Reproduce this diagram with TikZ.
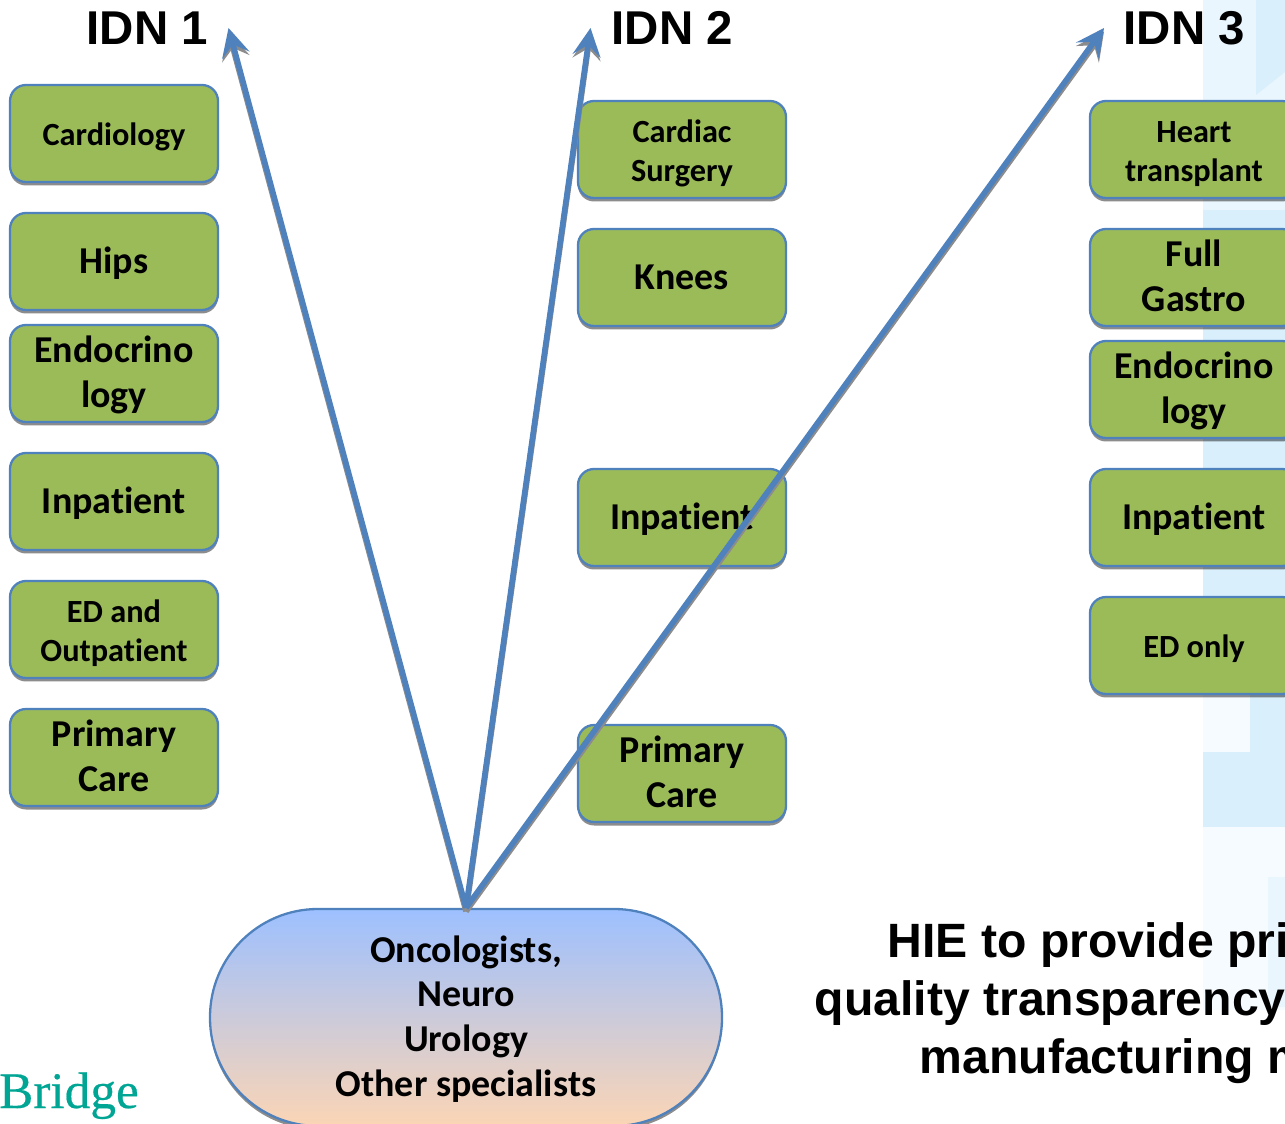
\documentclass[tikz,border=0pt]{standalone}
\usepackage{fontspec}
\setmainfont[Ligatures={NoCommon}]{Carlito}
\newfontfamily\arialfont{Liberation Sans}
\newfontfamily\logofont[FakeBold=0.4]{Liberation Serif}
\usetikzlibrary{shadows}
\usetikzlibrary{arrows.meta}
\definecolor{boxgreen}{HTML}{9BBB59}
\definecolor{boxblue}{HTML}{4F81BD}
\definecolor{bgpale}{HTML}{EAF6FE}
\definecolor{bgmid}{HTML}{D9EFFC}
\definecolor{bgfaint}{HTML}{F6FBFF}
\definecolor{logoteal}{HTML}{00A594}
\definecolor{oncotop}{HTML}{9DC0FF}
\definecolor{oncobottom}{HTML}{FBD5B5}
\newcommand{\boxlabel}[1]{\raisebox{-0.125cm}[0pt][0pt]{\begin{tabular}{@{}c@{}}#1\end{tabular}}}
\tikzset{
    carebox/.style={draw=boxblue, line width=0.65pt, fill=boxgreen, rounded corners=0.16cm,
        minimum width=2.08cm, minimum height=0.97cm, inner sep=0pt,
        drop shadow={shadow xshift=0cm, shadow yshift=-0.035cm, fill=black, opacity=0.45}},
    bigbox/.style={carebox, font=\bfseries\fontsize{10.8}{12.7}\selectfont},
    smallbox/.style={carebox, font=\bfseries\fontsize{9.2}{11.1}\selectfont},
    idn/.style={anchor=base west, inner sep=0pt, font=\arialfont\bfseries\fontsize{13.5}{16}\selectfont},
    hie/.style={anchor=base west, inner sep=0pt, font=\arialfont\bfseries\fontsize{13.7}{16}\selectfont},
    referral/.style={draw=boxblue, line width=1.6pt, -{Stealth[length=0.28cm, width=0.28cm, inset=0.11cm]}},
    referralshadow/.style={draw=black!45, line width=1.6pt, -{Stealth[length=0.28cm, width=0.28cm, inset=0.11cm]}}
}
\begin{document}
\begin{tikzpicture}
    \useasboundingbox (0,0) rectangle (12.85,-11.24);
    % backdrop
    \fill[bgpale] (12.03,0) rectangle (12.85,-2.1);
    \fill[bgmid] (12.56,0) -- (12.85,0) -- (12.85,-0.72) -- (12.56,-0.95) -- cycle;
    \fill[bgmid] (12.03,-2.1) rectangle (12.85,-6.9);
    \fill[bgfaint] (12.03,-6.9) rectangle (12.5,-7.52);
    \fill[bgmid] (12.5,-6.9) rectangle (12.85,-7.52);
    \fill[bgmid] (12.03,-7.52) rectangle (12.85,-8.27);
    \fill[bgfaint] (12.03,-8.27) rectangle (12.85,-10.1);
    \fill[bgpale] (12.68,-8.77) rectangle (12.85,-10.07);

    % first column
    \node[smallbox] (cardiology) at (1.14,-1.335) {\boxlabel{Cardiology}};
    \node[bigbox] (hips) at (1.14,-2.615) {\boxlabel{Hips}};
    \node[bigbox] (endoA) at (1.14,-3.735) {\boxlabel{Endocrino\\logy}};
    \node[bigbox] (inpatientA) at (1.14,-5.015) {\boxlabel{Inpatient}};
    \node[smallbox] (edout) at (1.14,-6.295) {\boxlabel{ED and\\Outpatient}};
    \node[bigbox] (primaryA) at (1.14,-7.575) {\boxlabel{Primary\\Care}};

    % second column
    \node[smallbox] (cardiac) at (6.82,-1.495) {\boxlabel{Cardiac\\Surgery}};
    \node[bigbox] (knees) at (6.82,-2.775) {\boxlabel{Knees}};
    \node[bigbox] (inpatientB) at (6.82,-5.175) {\boxlabel{Inpatient}};
    \node[bigbox] (primaryB) at (6.82,-7.735) {\boxlabel{Primary\\Care}};

    % third column
    \node[smallbox] (heart) at (11.94,-1.495) {\boxlabel{Heart\\transplant}};
    \node[bigbox] (gastro) at (11.94,-2.775) {\boxlabel{Full\\Gastro}};
    \node[bigbox] (endoC) at (11.94,-3.895) {\boxlabel{Endocrino\\logy}};
    \node[bigbox] (inpatientC) at (11.94,-5.175) {\boxlabel{Inpatient}};
    \node[smallbox] (edonly) at (11.94,-6.455) {\boxlabel{ED only}};

    \node[idn] (idnA) at (0.86,-0.45) {IDN 1};
    \node[idn] (idnB) at (6.11,-0.45) {IDN 2};
    \node[idn] (idnC) at (11.23,-0.45) {IDN 3};

    \node[bigbox, minimum width=5.12cm, minimum height=2.17cm, rounded corners=1.08cm,
        top color=oncotop, bottom color=oncobottom]
        (onco) at (4.66,-10.175) {\boxlabel{Oncologists,\\Neuro\\Urology\\Other specialists}};

    \coordinate (tipA) at (2.285,-0.28);
    \coordinate (tipB) at (5.905,-0.28);
    \coordinate (tipC) at (11.04,-0.28);

    \draw[referralshadow, transform canvas={yshift=-1pt}] (onco.north) -- (tipC);
    \draw[referralshadow, transform canvas={yshift=-1pt}] (onco.north) -- (tipA);
    \draw[referralshadow, transform canvas={yshift=-1pt}] (onco.north) -- (tipB);
    \draw[referral] (onco.north) -- (tipA);
    \draw[referral] (onco.north) -- (tipB);
    \draw[referral] (onco.north) -- (tipC);

    \node[hie] (hieA) at (8.87,-9.57) {HIE to provide pri};
    \node[hie] (hieB) at (8.14,-10.15) {quality transparency};
    \node[hie] (hieC) at (9.19,-10.73) {manufacturing m};

    \node[anchor=base east, inner sep=0pt, text=logoteal, font=\logofont\fontsize{14.6}{16}\selectfont]
        (logo) at (1.395,-11.08) {\textcolor{boxblue}{n}Bridge};
\end{tikzpicture}
\end{document}
